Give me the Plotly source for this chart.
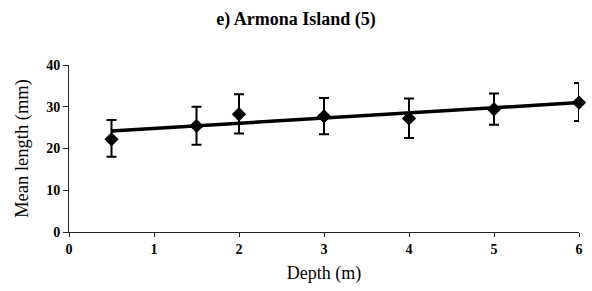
import plotly.graph_objects as go

depth = [0.5, 1.5, 2, 3, 4, 5, 6]
mean_length = [22.2, 25.4, 28.2, 27.7, 27.2, 29.4, 31.0]
err_plus = [4.6, 4.6, 4.8, 4.4, 4.8, 3.8, 4.7]
err_minus = [4.2, 4.5, 4.6, 4.3, 4.7, 3.7, 4.4]
trend_x = [0.5, 6]
trend_y = [24.2, 31.0]
x_ticks = [0, 1, 2, 3, 4, 5, 6]
y_ticks = [0, 10, 20, 30, 40]

serif = "'Liberation Serif', 'Times New Roman', Times, serif"

fig = go.Figure()
fig.add_trace(go.Scatter(
    x=trend_x, y=trend_y, mode="lines", cliponaxis=False,
    line=dict(color="black", width=3.5), showlegend=False, hoverinfo="skip"))
fig.add_trace(go.Scatter(
    x=depth, y=mean_length, mode="markers", cliponaxis=False,
    marker=dict(symbol="diamond", size=11, color="black"),
    error_y=dict(type="data", symmetric=False, array=err_plus, arrayminus=err_minus,
                 color="black", thickness=2, width=5),
    showlegend=False))

fig.update_layout(
    width=592, height=291,
    margin=dict(l=69, r=9, t=65, b=59),
    paper_bgcolor="white", plot_bgcolor="white",
    font=dict(family=serif, color="black"),
    title=dict(text="<b>e) Armona Island (5)</b>", x=0.5, xanchor="center",
               y=1 - 19 / 291, yanchor="middle", font=dict(size=18, family=serif)),
    xaxis=dict(range=[0, 6], tickvals=x_ticks, ticktext=["<b>%d</b>" % v for v in x_ticks],
               showgrid=False, zeroline=False,
               showline=True, linecolor="#222", linewidth=1,
               ticks="outside", ticklen=4, tickcolor="#222",
               tickfont=dict(size=14, family=serif),
               title=dict(text="Depth (m)", font=dict(size=18, family=serif), standoff=10)),
    yaxis=dict(range=[0, 40], tickvals=y_ticks, ticktext=["<b>%d</b>" % v for v in y_ticks],
               showgrid=False, zeroline=False,
               showline=True, linecolor="#222", linewidth=1,
               ticks="outside", ticklen=5, tickcolor="#222",
               tickfont=dict(size=14, family=serif),
               title=dict(text="Mean length (mm)", font=dict(size=18.5, family=serif), standoff=12)),
)

fig.write_html("out.html", config={"displayModeBar": False},
               post_script="document.body.style.margin='0';")
